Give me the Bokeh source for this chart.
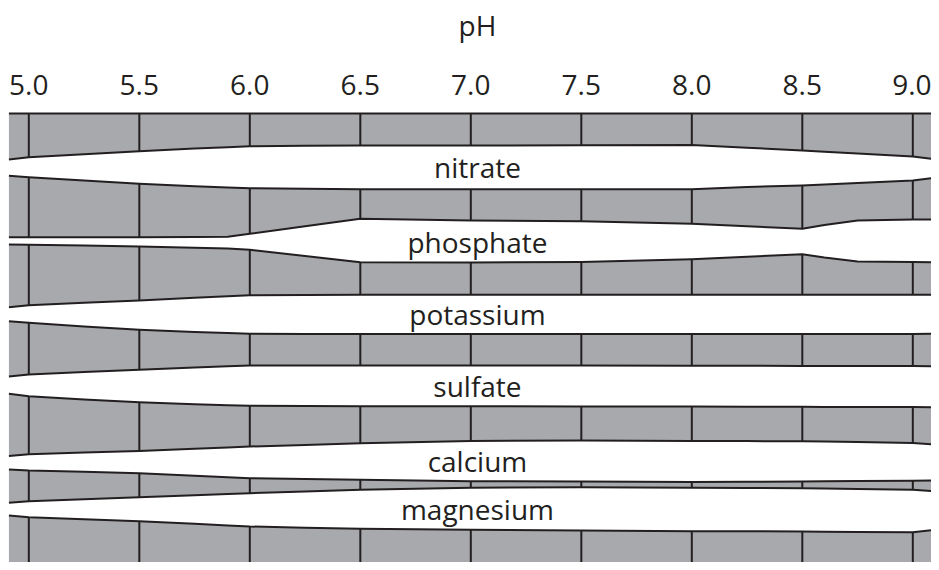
import numpy as np
from bokeh.plotting import figure
from bokeh.models import Range1d, FixedTicker, PrintfTickFormatter, LinearAxis
from bokeh.core.properties import value
from bokeh.embed import file_html
from bokeh.resources import INLINE

# pH sample points along each boundary
PH = [4.91, 5.0, 5.25, 5.5, 5.75, 5.9, 6.0, 6.25, 6.5, 7.0, 7.5, 8.0, 8.25, 8.5, 8.6, 8.75, 9.0, 9.1]
TICKS = [5.0, 5.5, 6.0, 6.5, 7.0, 7.5, 8.0, 8.5, 9.0]
NUTRIENTS = ["nitrate", "phosphate", "potassium", "sulfate", "calcium", "magnesium"]
LABEL_PH = 7.03

# boundaries of each nutrient's (white) availability band, depth from chart top
chart_top = [0] * 18
nitrate_top = [46, 43.7, 40.7, 37.7, 35, 33.7, 32.7, 32.2, 32, 32, 31.7, 31.5, 34.2, 37, 38.2, 40, 43, 45.7]
nitrate_bottom = [62.3, 63.7, 67, 70.3, 72.7, 74, 74.7, 75.3, 75.7, 75.7, 75.7, 75.7, 73.5, 72, 71, 69.5, 67, 64.3]
phosphate_top = [123.7, 123.7, 123.7, 123.7, 123.6, 123.2, 120.3, 112.8, 105.3, 107, 107.7, 110.3, 112.8, 115.3, 111.5, 107, 106, 106]
phosphate_bottom = [131, 131.3, 132.1, 133, 134.2, 135, 136.3, 142.5, 148.7, 149, 148.5, 145.7, 143.2, 140.7, 144, 148, 148.5, 148.7]
potassium_top = [193.7, 191.7, 189.3, 187, 184.3, 182.7, 181.7, 181.4, 181.3, 181.3, 181.3, 181.3, 181.3, 181.3, 181.3, 181.3, 181.3, 181.3]
potassium_bottom = [207.7, 209.3, 213, 216.3, 218.5, 219.6, 220.3, 220.5, 220.5, 220.5, 220.5, 220.5, 220.5, 220.5, 220.5, 220.5, 220.4, 220.3]
sulfate_top = [263, 261, 258.6, 256.3, 254, 252.7, 252, 252, 252, 252, 252, 252.2, 252.3, 252.4, 252.5, 252.5, 252.6, 252.7]
sulfate_bottom = [280.3, 282.7, 285.9, 288.7, 290.8, 291.7, 292.3, 292.6, 292.7, 292.8, 292.9, 293.1, 293.2, 293.3, 293.4, 293.5, 293.6, 293.7]
calcium_top = [342.5, 340.7, 339.1, 337.5, 335.3, 333.9, 333, 331.4, 329.7, 327.5, 327, 327.5, 327.6, 327.7, 328, 328.5, 329.5, 331]
calcium_bottom = [356, 357, 358.3, 359.7, 362.2, 363.7, 364.7, 365.5, 366.3, 367.7, 368, 368.5, 368.3, 368, 367.8, 367.6, 367.3, 367]
magnesium_top = [389.3, 387.7, 385.7, 383.7, 381.7, 380.5, 379.7, 378, 376.3, 374.3, 373.7, 374.2, 374.4, 374.7, 375, 375.5, 376.3, 377.7]
magnesium_bottom = [402, 403.7, 405.7, 407.7, 410.3, 412, 413, 414.2, 415.3, 416.3, 417, 417.7, 417.8, 418, 418.2, 418.4, 418.7, 416.3]
chart_bottom = [470] * 18

EDGES = [chart_top,
         nitrate_top, nitrate_bottom,
         phosphate_top, phosphate_bottom,
         potassium_top, potassium_bottom,
         sulfate_top, sulfate_bottom,
         calcium_top, calcium_bottom,
         magnesium_top, magnesium_bottom,
         chart_bottom]

GRAY = "#a7a9ac"
INK = "#231f20"
FONT = "Open Sans"

X0 = 4.8719
PX_PER_PH = 221.0
W, H = 931, 562
TOP = 111

p = figure(width=W, height=H, output_backend="svg", toolbar_location=None,
           x_range=Range1d(X0, X0 + W / PX_PER_PH), y_range=Range1d(H - TOP - 2, -2),
           x_axis_location="above", y_axis_location=None,
           min_border_left=0, min_border_right=0, min_border_bottom=0, min_border_top=TOP)
p.outline_line_color = None
p.grid.visible = False
p.background_fill_color = "white"
p.border_fill_color = "white"


def style_axis(ax, standoff):
    ax.axis_line_color = None
    ax.major_tick_line_color = None
    ax.minor_tick_line_color = None
    ax.major_tick_out = 0
    ax.major_tick_in = 0
    ax.major_label_standoff = standoff
    ax.major_label_text_font = FONT
    ax.major_label_text_font_size = "28px"
    ax.major_label_text_color = INK


ax = p.xaxis[0]
ax.ticker = FixedTicker(ticks=TICKS)
ax.formatter = PrintfTickFormatter(format="%.1f")
style_axis(ax, 17)

# "pH" title as a second, outer axis so it can sit over the 7.0 column
title_ax = LinearAxis(ticker=FixedTicker(ticks=[LABEL_PH]),
                      major_label_overrides={LABEL_PH: "pH"})
style_axis(title_ax, 28)
p.add_layout(title_ax, "above")

ticks = np.array(TICKS)
for k in range(0, len(EDGES), 2):
    top = np.array(EDGES[k], dtype=float)
    bot = np.array(EDGES[k + 1], dtype=float)
    p.varea(x=PH, y1=top, y2=bot, fill_color=GRAY)
    p.segment(x0=ticks, y0=np.interp(ticks, PH, top), x1=ticks, y1=np.interp(ticks, PH, bot),
              line_color=INK, line_width=2)
    p.line(PH, top, line_color=INK, line_width=2, line_join="round")
    p.line(PH, bot, line_color=INK, line_width=2, line_join="round")

# nutrient labels, centered in each white band
label_y = []
for i in range(len(NUTRIENTS)):
    t = np.interp(LABEL_PH, PH, EDGES[2 * i + 1])
    b = np.interp(LABEL_PH, PH, EDGES[2 * i + 2])
    label_y.append((t + b) / 2)
p.text(x=[LABEL_PH] * len(NUTRIENTS), y=label_y, text=NUTRIENTS,
       text_font=value(FONT), text_font_size="28px", text_color=INK,
       text_align="center", text_baseline="alphabetic")

open("out.html", "w").write(file_html(p, INLINE))
